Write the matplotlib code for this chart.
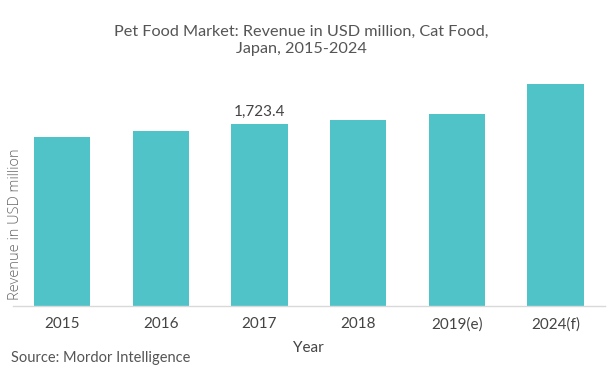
import matplotlib
matplotlib.use("Agg")
from matplotlib import pyplot as plt

years = ['2015', '2016', '2017', '2018', '2019(e)', '2024(f)']
revenue = [1600.8, 1657.3, 1723.4, 1761.1, 1817.7, 2100.8]
labelled = {2: '1,723.4'}

bar_color = '#50C3C8'
text_color = '#555555'

plt.rcParams['font.family'] = ['Lato', 'DejaVu Sans']

fig = plt.figure(figsize=(6.15, 3.86), dpi=100)
ax = fig.add_axes([0.0205, 0.2073, 0.963, 0.611])

x = list(range(len(years)))
ax.bar(x, revenue, width=0.57, color=bar_color)

for i, txt in labelled.items():
    ax.text(i, revenue[i] + 45, txt, ha='center', va='bottom',
            fontsize=11, color='#444444')

ax.set_xlim(-0.5, len(years) - 0.5)
ax.set_ylim(0, 2230)
ax.set_xticks(x)
ax.set_xticklabels(years, fontsize=11, color='#444444')
ax.tick_params(axis='x', length=0, pad=8)
ax.set_yticks([])

for s in ['top', 'right', 'left']:
    ax.spines[s].set_visible(False)
ax.spines['bottom'].set_color('#d9d9d9')
ax.spines['bottom'].set_linewidth(1)

ax.set_xlabel('Year', fontsize=11, color='#444444', labelpad=7)
fig.text(0.025, 0.42, 'Revenue in USD million', rotation=90, ha='center',
         va='center', fontsize=10.5, color='#666666', fontfamily=['Open Sans', 'DejaVu Sans'],
         fontweight='light')

fig.text(0.49, 0.895, 'Pet Food Market: Revenue in USD million, Cat Food,\nJapan, 2015-2024',
         ha='center', va='center', fontsize=11.7, color=text_color, linespacing=1.3)
fig.text(0.018, 0.072, 'Source: Mordor Intelligence', ha='left', va='center',
         fontsize=10.5, color=text_color)

fig.savefig('out.png', dpi=100)
